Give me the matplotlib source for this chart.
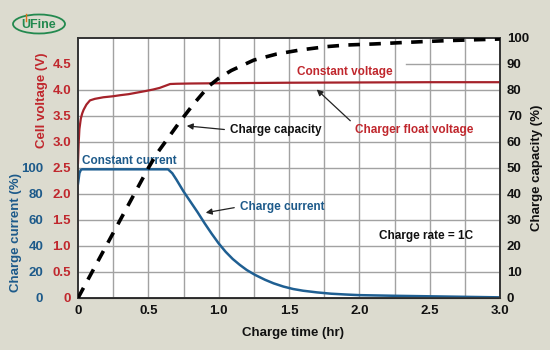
import matplotlib.pyplot as plt
from matplotlib.patches import Ellipse

plt.rcParams['font.family'] = ['Liberation Sans', 'DejaVu Sans']
plt.rcParams['font.weight'] = 'bold'

# cell voltage (V) against charge time (hr)
time_v = [0, 0.005, 0.01, 0.02, 0.03, 0.04, 0.06, 0.085, 0.12, 0.18, 0.25, 0.30,
          0.36, 0.42, 0.48, 0.535, 0.58, 0.62, 0.655, 0.7, 0.8, 1.0, 1.5, 2.0, 2.5, 3.0]
voltage = [2.6, 3.0, 3.25, 3.45, 3.55, 3.62, 3.72, 3.8, 3.83, 3.86, 3.88, 3.9,
           3.92, 3.95, 3.98, 4.01, 4.04, 4.08, 4.115, 4.12, 4.125, 4.13, 4.14, 4.145, 4.15, 4.15]

# charge current (%)
time_i = [0, 0.01, 0.02, 0.03, 0.64, 0.67, 0.7, 0.75, 0.8, 0.85, 0.9, 0.95, 1.0,
          1.05, 1.1, 1.15, 1.2, 1.26, 1.33, 1.39, 1.46, 1.53, 1.6, 1.7, 1.8, 1.9,
          2.0, 2.25, 2.5, 2.75, 3.0]
current = [88, 96, 98.5, 99, 99, 96, 91, 82, 74, 66, 57.5, 49.5, 42,
           35.5, 30, 25.5, 21.5, 17.7, 14, 11.3, 8.8, 6.9, 5.6, 4.3, 3.3, 2.7,
           2.2, 1.7, 1.3, 0.9, 0.5]

# charge capacity (%)
time_c = [0, 0.5, 0.56, 0.62, 0.72, 0.82, 0.93, 1.0, 1.09, 1.25, 1.41, 1.58,
          1.77, 1.91, 2.1, 2.29, 2.45, 2.63, 2.81, 3.0]
capacity = [0, 50, 55.5, 60, 67.5, 74.5, 81.5, 84.5, 87.5, 91.5, 93.8, 95.4,
            96.7, 97.3, 97.7, 98.2, 98.6, 99.0, 99.3, 99.6]

x_ticks = [0, 0.5, 1.0, 1.5, 2.0, 2.5, 3.0]
x_labels = ['0', '0.5', '1.0', '1.5', '2.0', '2.5', '3.0']
v_ticks = [0, 0.5, 1.0, 1.5, 2.0, 2.5, 3.0, 3.5, 4.0, 4.5]
v_labels = ['0', '0.5', '1.0', '1.5', '2.0', '2.5', '3.0', '3.5', '4.0', '4.5']
i_ticks = [0, 20, 40, 60, 80, 100]
c_ticks = [0, 10, 20, 30, 40, 50, 60, 70, 80, 90, 100]

RED = '#c0272d'
RED_LINE = '#a5222a'
BLUE = '#1d5a8a'
BLUE_LINE = '#1f5f92'
BG = '#dcdbcf'
GRID = '#a2a2a2'

fig = plt.figure(figsize=(5.5, 3.5), dpi=100, facecolor=BG)
ax = fig.add_axes([78 / 550, 1 - 298 / 350, 422 / 550, 260 / 350])
ax.set_facecolor('white')
ax.set_xlim(0, 3.0)
ax.set_ylim(0, 5.0)

# grid: every 0.25 hr and every 0.5 V
for gx in [0.25, 0.5, 0.75, 1.0, 1.25, 1.5, 1.75, 2.0, 2.25, 2.5, 2.75]:
    ax.axvline(gx, color=GRID, lw=1.0, zorder=0)
for gy in [0.5, 1.0, 1.5, 2.0, 2.5, 3.0, 3.5, 4.0]:
    ax.axhline(gy, color=GRID, lw=1.0, zorder=0)
ax.plot([2.33, 3.0], [4.5, 4.5], color=GRID, lw=1.0, zorder=0)

ax.set_xticks(x_ticks)
ax.set_xticklabels(x_labels)
ax.set_yticks(v_ticks)
ax.set_yticklabels(v_labels)
ax.tick_params(axis='both', length=0, labelsize=9.5)
ax.tick_params(axis='x', pad=5, labelcolor='#111111')
ax.tick_params(axis='y', pad=5, labelcolor=RED)
for s in ax.spines.values():
    s.set_color('#333333')
    s.set_linewidth(1.2)

# current scale sits further out on the left
ax_i = ax.twinx()
ax_i.set_ylim(0, 200)
ax_i.yaxis.set_ticks_position('left')
ax_i.spines['left'].set_position(('outward', 20))
ax_i.spines['left'].set_visible(False)
ax_i.spines['right'].set_visible(False)
ax_i.spines['top'].set_visible(False)
ax_i.set_yticks(i_ticks)
ax_i.tick_params(axis='y', length=0, pad=5, labelsize=9.5, labelcolor=BLUE)

# capacity scale on the right
ax_c = ax.twinx()
ax_c.set_ylim(0, 100)
ax_c.set_yticks(c_ticks)
ax_c.tick_params(axis='y', length=0, pad=5, labelsize=9.5, labelcolor='#111111')
for s in ax_c.spines.values():
    s.set_color('#333333')
    s.set_linewidth(1.2)

ax.plot(time_v, voltage, color=RED_LINE, lw=1.6, zorder=3)
ax_i.plot(time_i, current, color=BLUE_LINE, lw=1.8, zorder=3)
ax_c.plot(time_c, capacity, color='black', lw=2.6, dashes=(3.2, 2.6), zorder=3)

# annotations
ax.text(0.026, 2.64, 'Constant current', color=BLUE, fontsize=8.5, va='center', ha='left')
ax.text(1.56, 4.35, 'Constant voltage', color=RED, fontsize=8.5, va='center', ha='left')
ax.text(2.14, 1.19, 'Charge rate = 1C', color='#111111', fontsize=8.5, va='center', ha='left')
arrow = dict(arrowstyle='-|>', color='#222222', lw=0.9, mutation_scale=9, shrinkA=2, shrinkB=0)
ax.annotate('Charge capacity', xy=(0.773, 3.31), xytext=(1.08, 3.23), color='#111111',
            fontsize=8.5, va='center', ha='left',
            arrowprops=dict(arrow, relpos=(0, 0.5)))
ax.annotate('Charger float voltage', xy=(1.697, 4.01), xytext=(1.97, 3.23), color=RED,
            fontsize=8.5, va='center', ha='left',
            arrowprops=dict(arrow, relpos=(0, 0.9)))
ax.annotate('Charge current', xy=(0.908, 1.64), xytext=(1.15, 1.756), color=BLUE,
            fontsize=8.5, va='center', ha='left',
            arrowprops=dict(arrow, relpos=(0, 0.5)))

# axis titles
fig.text(42 / 550, 1 - 100 / 350, 'Cell voltage (V)', color=RED, fontsize=9.5,
         rotation=90, ha='center', va='center')
fig.text(16 / 550, 1 - 233 / 350, 'Charge current (%)', color=BLUE, fontsize=9.5,
         rotation=90, ha='center', va='center')
fig.text(537 / 550, 1 - 168 / 350, 'Charge capacity (%)', color='#111111', fontsize=9.5,
         rotation=90, ha='center', va='center')
fig.text(293 / 550, 1 - 333 / 350, 'Charge time (hr)', color='#111111', fontsize=9.5,
         ha='center', va='center')

# logo
logo_green = '#23894f'
fig.patches.append(Ellipse((39 / 550, 1 - 24 / 350), 52 / 550, 19 / 350,
                           transform=fig.transFigure, fill=False,
                           edgecolor=logo_green, lw=1.3))
fig.text(39 / 550, 1 - 24.5 / 350, 'UFine', color=logo_green, fontsize=9,
         ha='center', va='center')
fig.lines.append(plt.Line2D([26 / 550, 26 / 550], [1 - 14 / 350, 1 - 21 / 350],
                            transform=fig.transFigure, color='#e0701a', lw=1.0))

fig.savefig('out.png', dpi=100, facecolor=BG)
